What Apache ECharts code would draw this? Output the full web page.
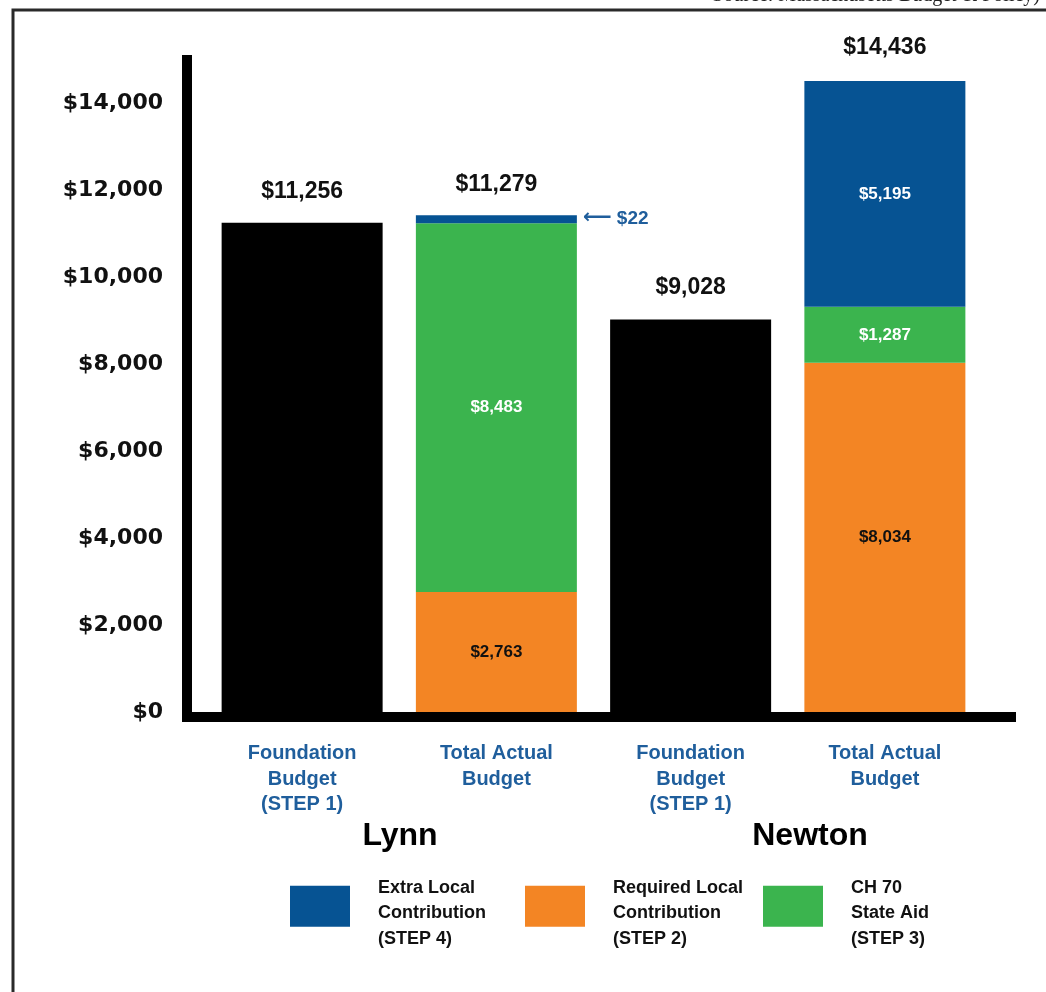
<!DOCTYPE html>
<html>
<head>
<meta charset="utf-8">
<style>html,body{margin:0;padding:0;background:#fff;}#c{width:1046px;height:992px;}</style>
<script src="https://cdn.jsdelivr.net/npm/echarts@6/dist/echarts.min.js"></script>
</head>
<body>
<div id="c"></div>
<script>
// ---- data ----
const categories = ['Foundation\nBudget\n(STEP 1)', 'Total Actual\nBudget', 'Foundation\nBudget\n(STEP 1)', 'Total Actual\nBudget'];
const groups = ['Lynn', 'Newton'];
const foundation = [11256, null, 9028, null];
const requiredLocal = [null, 2763, null, 8034];
const stateAid = [null, 8483, null, 1287];
const extraLocal = [null, 22, null, 5195];
const totals = [null, 11279, null, 14436];
const yTicks = [0, 2000, 4000, 6000, 8000, 10000, 12000, 14000];
const seriesNames = {
  extra: 'Extra Local\nContribution\n(STEP 4)',
  required: 'Required Local\nContribution\n(STEP 2)',
  aid: 'CH 70\nState Aid\n(STEP 3)'
};
const sourceText = 'Source: Massachusetts Budget & Policy)';

// ---- styling ----
const SANS = "'Liberation Sans',Arial,sans-serif";
const BLUE = '#065393', ORANGE = '#f38524', GREEN = '#3bb44e', LABELBLUE = '#1f5e9c';
const fmt = v => '$' + Number(v).toLocaleString('en-US');

const chart = echarts.init(document.getElementById('c'), null, {renderer: 'canvas'});

const inLabel = (color) => ({show: true, position: 'inside', color: color, fontFamily: SANS, fontWeight: 'bold', fontSize: 17, formatter: p => fmt(p.value)});

const extraData = extraLocal.map((v, i) => {
  if (v === null) return null;
  if (v < 500) {
    return {value: v, label: {show: true, position: 'right', distance: 6, color: LABELBLUE, fontFamily: SANS, fontWeight: 'bold', fontSize: 19,
      formatter: p => '{a|⟵} ' + fmt(p.value), rich: {a: {fontFamily: 'DejaVu Sans', fontSize: 20, color: LABELBLUE, padding: [0, 0, 3, 0]}}}};
  }
  return {value: v};
});

// legend swatch: 60x41 square sitting at the top of a 60x55 icon box (so text sits slightly lower)
const SWATCH = 'path://M0,0h60v41h-60zM0,55';
const legendBase = (name, left) => ({
  data: [name], left: left, top: 875, orient: 'horizontal', icon: SWATCH, padding: 0,
  itemWidth: 60, itemHeight: 55, selectedMode: false,
  textStyle: {fontFamily: SANS, fontWeight: 'bold', fontSize: 18, color: '#111', lineHeight: 25.5, padding: [0, 0, 0, 23]}
});

const option = {
  animation: false,
  backgroundColor: '#fff',
  grid: [
    {left: 205, right: 64, top: 60, bottom: 280},
    {left: 187, right: 35, top: 60, bottom: 275}
  ],
  xAxis: [
    {type: 'category', gridIndex: 0, data: categories,
      axisLine: {show: false}, axisTick: {show: false},
      axisLabel: {interval: 0, margin: 29, color: LABELBLUE, fontFamily: SANS, fontWeight: 'bold', fontSize: 20, lineHeight: 25.5}},
    {type: 'value', gridIndex: 1, min: 0, max: 1, axisLine: {show: true, onZero: false, lineStyle: {color: '#000', width: 10, cap: 'square'}},
      axisTick: {show: false}, axisLabel: {show: false}, splitLine: {show: false}}
  ],
  yAxis: [
    {type: 'value', gridIndex: 0, min: 0, max: 15000, interval: 2000,
      axisLine: {show: false}, axisTick: {show: false}, splitLine: {show: false},
      axisLabel: {margin: 42, color: '#111', fontFamily: "'DejaVu Sans',sans-serif", fontWeight: 'bold', fontSize: 22, padding: [0, 0, 10, 0],
        formatter: v => yTicks.indexOf(v) >= 0 ? fmt(v) : ''}},
    {type: 'value', gridIndex: 1, min: 0, max: 1, axisLine: {show: true, onZero: false, lineStyle: {color: '#000', width: 10, cap: 'square'}},
      axisTick: {show: false}, axisLabel: {show: false}, splitLine: {show: false}}
  ],
  legend: [
    legendBase(seriesNames.extra, 290),
    legendBase(seriesNames.required, 525),
    legendBase(seriesNames.aid, 763)
  ],
  series: [
    {name: 'Foundation Budget', type: 'bar', stack: 'total', barWidth: 161, data: foundation,
      itemStyle: {color: '#000'},
      label: {show: true, position: 'top', distance: 20, color: '#111', fontFamily: SANS, fontWeight: 'bold', fontSize: 23, formatter: p => fmt(p.value)}},
    {name: seriesNames.required, type: 'bar', stack: 'total', barWidth: 161, data: requiredLocal,
      itemStyle: {color: ORANGE}, label: inLabel('#111')},
    {name: seriesNames.aid, type: 'bar', stack: 'total', barWidth: 161, data: stateAid,
      itemStyle: {color: GREEN}, label: inLabel('#fff')},
    {name: seriesNames.extra, type: 'bar', stack: 'total', barWidth: 161, barMinHeight: 8, data: extraData,
      itemStyle: {color: BLUE}, label: inLabel('#fff')},
    {name: 'Total', type: 'scatter', data: totals, symbolSize: 1, itemStyle: {color: 'rgba(0,0,0,0)', opacity: 1},
      label: {show: true, position: 'top', distance: 25, color: '#111', fontFamily: SANS, fontWeight: 'bold', fontSize: 23, formatter: p => fmt(p.value)}}
  ],
  graphic: [
    {type: 'rect', silent: true, shape: {x: 13, y: 10, width: 1100, height: 1100}, style: {fill: 'none', stroke: '#2a2a2a', lineWidth: 3}},
    {type: 'text', silent: true, style: {x: 1040, y: -14, text: sourceText, align: 'right', verticalAlign: 'top', fontFamily: "'Liberation Serif',serif", fontSize: 20, fill: '#222'}},
    {type: 'text', silent: true, style: {x: 400, y: 836, text: groups[0], align: 'center', verticalAlign: 'middle', fontFamily: SANS, fontWeight: 'bold', fontSize: 32, fill: '#000'}},
    {type: 'text', silent: true, style: {x: 810, y: 836, text: groups[1], align: 'center', verticalAlign: 'middle', fontFamily: SANS, fontWeight: 'bold', fontSize: 32, fill: '#000'}}
  ]
};
chart.setOption(option);
</script>
</body>
</html>
